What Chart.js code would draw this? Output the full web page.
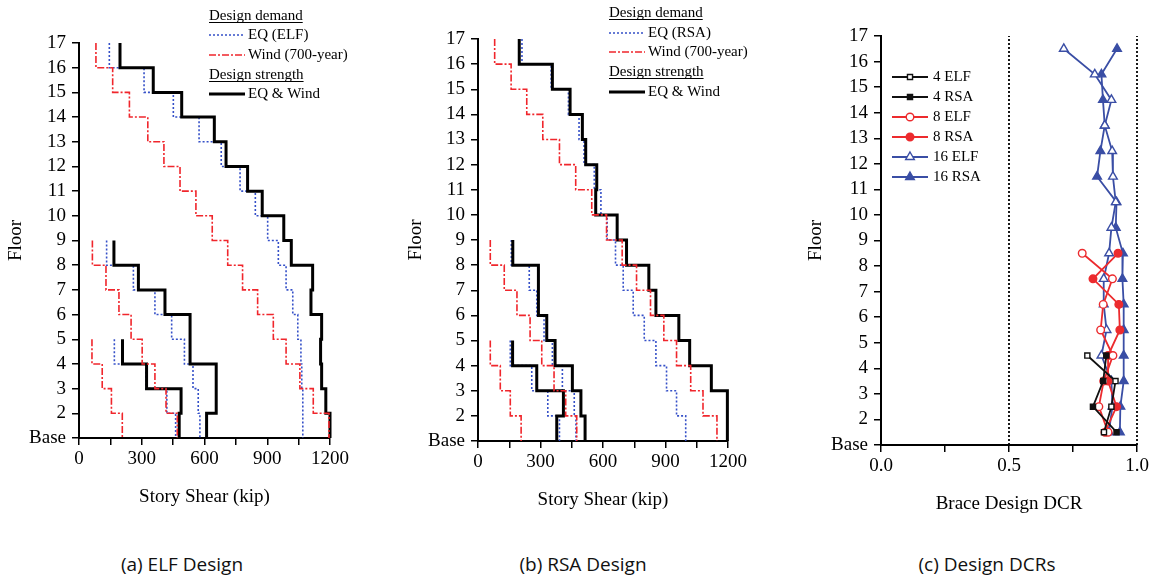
<!DOCTYPE html>
<html>
<head>
<meta charset="utf-8">
<script src="https://cdn.jsdelivr.net/npm/chart.js"></script>
<style>
  body { margin: 0; background: #fff; }
  #page { position: relative; width: 1160px; height: 581px; overflow: hidden; background: #fff; }
  canvas { position: absolute; top: 0; }
  .caption { position: absolute; width: 240px; text-align: center; font-family: "Open Sans", sans-serif; font-size: 19px; color: #111; top: 551px; }
</style>
</head>
<body>
<div id="page">
  <canvas id="chartA" width="390" height="520" style="left:0"></canvas>
  <canvas id="chartB" width="390" height="520" style="left:400px"></canvas>
  <canvas id="chartC" width="360" height="520" style="left:800px"></canvas>
  <div class="caption" style="left:62px">(a) ELF Design</div>
  <div class="caption" style="left:463px">(b) RSA Design</div>
  <div class="caption" style="left:867px">(c) Design DCRs</div>
</div>
<script>
// Story shears in kip, listed from the top story down to the base story

// (a) ELF design
const elfA16 = [145, 311, 451, 574, 680, 770, 843, 902, 953, 990, 1022, 1046, 1061, 1065, 1070, 1070];
const windA16 = [81, 161, 241, 329, 406, 483, 559, 637, 711, 782, 854, 929, 990, 1056, 1120, 1195];
const strengthA16 = [196, 355, 491, 647, 703, 806, 876, 979, 1015, 1117, 1109, 1160, 1155, 1160, 1180, 1200];
const elfA8 = [132, 260, 363, 443, 504, 545, 570, 578];
const windA8 = [64, 129, 191, 249, 302, 363, 416, 470];
const strengthA8 = [167, 284, 411, 531, 531, 656, 656, 610];
const elfA4 = [169, 320, 420, 462];
const windA4 = [62, 111, 155, 207];
const strengthA4 = [208, 323, 488, 479];

// (b) RSA design
const rsaB16 = [211, 351, 434, 485, 509, 558, 590, 620, 660, 697, 745, 798, 854, 905, 953, 997];
const windB16 = [80, 159, 234, 311, 391, 469, 546, 617, 692, 761, 828, 892, 953, 1021, 1080, 1147];
const strengthB16 = [198, 357, 442, 501, 517, 570, 565, 668, 713, 820, 854, 964, 1016, 1120, 1197, 1197];
const rsaB8 = [160, 246, 282, 317, 357, 405, 462, 470];
const windB8 = [59, 126, 187, 250, 306, 365, 421, 474];
const strengthB8 = [167, 290, 290, 330, 370, 453, 494, 514];
const rsaB4 = [155, 258, 335, 391];
const windB4 = [59, 107, 155, 207];
const strengthB4 = [166, 282, 410, 378];

// (c) brace design DCRs, top story down
const dcr16Elf = [0.714, 0.835, 0.900, 0.874, 0.903, 0.906, 0.917, 0.900, 0.891, 0.870, 0.870, 0.881, 0.861, 0.900, 0.904, 0.890];
const dcr16Rsa = [0.922, 0.861, 0.867, 0.874, 0.857, 0.844, 0.920, 0.917, 0.945, 0.943, 0.948, 0.948, 0.948, 0.948, 0.935, 0.933];
const dcr8Elf = [0.786, 0.904, 0.868, 0.858, 0.906, 0.870, 0.851, 0.887];
const dcr8Rsa = [0.926, 0.828, 0.929, 0.933, 0.887, 0.887, 0.920, 0.875];
const dcr4Elf = [0.806, 0.916, 0.900, 0.871];
const dcr4Rsa = [0.880, 0.868, 0.828, 0.920];
const dcrLimits = [0.5, 1.0];

// tick labels
const floorLabels = ['Base', '2', '3', '4', '5', '6', '7', '8', '9', '10', '11', '12', '13', '14', '15', '16', '17'];
const shearLabels = [0, 300, 600, 900, 1200];
const dcrLabels = [0.0, 0.5, 1.0];

const SERIF = '"Liberation Serif", "Times New Roman", serif';
const tickFont = { family: SERIF, size: 19 };
const titleFont = { family: SERIF, size: 19 };

const EQ_STYLE = { color: '#3550c8', width: 1.6, dash: [2, 2] };
const WIND_STYLE = { color: '#f0262c', width: 1.6, dash: [7, 2, 2, 2] };
const STRENGTH_STYLE = { color: '#000', width: 3, dash: [] };

// turns story shears into a vertical step line
function stepPoints(shears) {
    const top = shears.length + 1;
    const pts = [];
    shears.forEach((v, i) => {
        pts.push({ x: v, y: top - i });
        pts.push({ x: v, y: top - i - 1 });
    });
    return pts;
}

// story mid-heights for the DCR points
function storyPoints(values) {
    const top = values.length + 1;
    return values.map((v, i) => ({ x: v, y: top - i - 0.5 }));
}

function stepSet(shears, style) {
    return {
        data: stepPoints(shears),
        borderColor: style.color,
        borderWidth: style.width,
        borderDash: style.dash,
        pointRadius: 0,
        fill: false,
        clip: false
    };
}

// legend drawn on the canvas, with underlined headings
const panelLegend = {
    id: 'panelLegend',
    afterDraw(chart, args, opts) {
        const ctx = chart.ctx;
        ctx.save();
        ctx.font = '15px ' + SERIF;
        ctx.textBaseline = 'middle';
        opts.rows.forEach(row => {
            ctx.fillStyle = '#000';
            if (row.header) {
                ctx.fillText(row.text, opts.x, row.y);
                const w = ctx.measureText(row.text).width;
                ctx.fillRect(opts.x, row.y + 6, w, 1);
                return;
            }
            const st = row.style;
            ctx.strokeStyle = st.color;
            ctx.lineWidth = st.width;
            ctx.setLineDash(st.dash || []);
            ctx.beginPath();
            ctx.moveTo(opts.x, row.y);
            ctx.lineTo(opts.x + opts.len, row.y);
            ctx.stroke();
            ctx.setLineDash([]);
            if (st.point) {
                ctx.fillStyle = st.fill;
                ctx.lineWidth = 1.4;
                Chart.helpers.drawPoint(ctx, { pointStyle: st.point, radius: st.radius, borderWidth: 1.4, rotation: 0 },
                    opts.x + opts.len / 2, row.y);
            }
            ctx.fillStyle = '#000';
            ctx.fillText(row.text, opts.x + opts.len + opts.gap, row.y);
        });
        ctx.restore();
    }
};

function yScale(width) {
    return {
        type: 'linear', min: 1, max: 17,
        afterFit: s => { s.width = width; },
        border: { display: true, color: '#000', width: 2 },
        grid: { drawOnChartArea: false, drawTicks: true, tickLength: 7, color: '#000', lineWidth: 1.5 },
        ticks: {
            stepSize: 1, padding: 6, color: '#000', font: tickFont, autoSkip: false,
            callback: v => floorLabels[v - 1]
        },
        title: { display: true, text: 'Floor', color: '#000', font: titleFont, padding: { top: 5, bottom: 0 } }
    };
}

function xScale(max, step, title, labelFn) {
    return {
        type: 'linear', min: 0, max: max,
        afterFit: s => { s.height = 70; },
        border: { display: true, color: '#000', width: 2 },
        grid: { drawOnChartArea: false, drawTicks: true, tickLength: 7, color: '#000', lineWidth: 1.5 },
        ticks: { stepSize: step, padding: 3, color: '#000', font: tickFont, autoSkip: false, maxRotation: 0, callback: labelFn },
        title: { display: true, text: title, color: '#000', font: titleFont, padding: { top: 0, bottom: 0 } }
    };
}

function shearChart(id, sets, padding, yWidth, legendRows) {
    new Chart(document.getElementById(id), {
        type: 'line',
        data: { datasets: sets },
        options: {
            responsive: false,
            animation: false,
            layout: { padding: padding },
            scales: {
                x: xScale(1200, 150, 'Story Shear (kip)', v => shearLabels.includes(v) ? String(v) : ''),
                y: yScale(yWidth)
            },
            plugins: {
                legend: { display: false },
                tooltip: { enabled: false },
                panelLegend: { x: 209, len: 36, gap: 3, rows: legendRows }
            }
        },
        plugins: [panelLegend]
    });
}

function demandRows(eqLabel, ys) {
    return [
        { header: true, text: 'Design demand', y: ys[0] },
        { text: eqLabel, style: EQ_STYLE, y: ys[1] },
        { text: 'Wind (700-year)', style: WIND_STYLE, y: ys[2] },
        { header: true, text: 'Design strength', y: ys[3] },
        { text: 'EQ & Wind', style: STRENGTH_STYLE, y: ys[4] }
    ];
}

document.addEventListener('DOMContentLoaded', () => {
    shearChart('chartA', [
        stepSet(windA16, WIND_STYLE), stepSet(windA8, WIND_STYLE), stepSet(windA4, WIND_STYLE),
        stepSet(strengthA16, STRENGTH_STYLE), stepSet(strengthA8, STRENGTH_STYLE), stepSet(strengthA4, STRENGTH_STYLE),
        stepSet(elfA16, EQ_STYLE), stepSet(elfA8, EQ_STYLE), stepSet(elfA4, EQ_STYLE)
    ], { left: 0, top: 43, right: 60, bottom: 12 }, 79, demandRows('EQ (ELF)', [16, 35, 55, 75, 94]));

    shearChart('chartB', [
        stepSet(windB16, WIND_STYLE), stepSet(windB8, WIND_STYLE), stepSet(windB4, WIND_STYLE),
        stepSet(strengthB16, STRENGTH_STYLE), stepSet(strengthB8, STRENGTH_STYLE), stepSet(strengthB4, STRENGTH_STYLE),
        stepSet(rsaB16, EQ_STYLE), stepSet(rsaB8, EQ_STYLE), stepSet(rsaB4, EQ_STYLE)
    ], { left: 0, top: 39, right: 62, bottom: 9 }, 78, demandRows('EQ (RSA)', [13, 33, 52, 72, 92]));

    // (c) DCR chart
    const C_BLACK = '#111', C_RED = '#ec2b2e', C_BLUE = '#3a4ea5';
    const dcrStyles = [
        { label: '4 ELF', data: dcr4Elf, color: C_BLACK, point: 'rect', radius: 3.6, fill: '#fff' },
        { label: '4 RSA', data: dcr4Rsa, color: C_BLACK, point: 'rect', radius: 3.6, fill: C_BLACK },
        { label: '8 ELF', data: dcr8Elf, color: C_RED, point: 'circle', radius: 3.8, fill: '#fff' },
        { label: '8 RSA', data: dcr8Rsa, color: C_RED, point: 'circle', radius: 3.8, fill: C_RED },
        { label: '16 ELF', data: dcr16Elf, color: C_BLUE, point: 'triangle', radius: 5, fill: '#fff' },
        { label: '16 RSA', data: dcr16Rsa, color: C_BLUE, point: 'triangle', radius: 5, fill: C_BLUE }
    ];
    const dcrSets = dcrStyles.map(s => ({
        data: storyPoints(s.data),
        borderColor: s.color,
        borderWidth: 1.8,
        pointStyle: s.point,
        pointRadius: s.radius,
        pointBorderColor: s.color,
        pointBackgroundColor: s.fill,
        pointBorderWidth: 1.4,
        clip: false
    }));
    dcrLimits.forEach(v => dcrSets.push({
        data: [{ x: v, y: 1 }, { x: v, y: 17 }],
        borderColor: '#000', borderWidth: 1.8, borderDash: [2, 2], pointRadius: 0, clip: false
    }));

    new Chart(document.getElementById('chartC'), {
        type: 'line',
        data: { datasets: dcrSets },
        options: {
            responsive: false,
            animation: false,
            layout: { padding: { left: 0, top: 36, right: 23, bottom: 5 } },
            scales: {
                x: xScale(1, 0.25, 'Brace Design DCR',
                    v => dcrLabels.some(l => Math.abs(l - v) < 1e-6) ? v.toFixed(1) : ''),
                y: yScale(81)
            },
            plugins: {
                legend: { display: false },
                tooltip: { enabled: false },
                panelLegend: {
                    x: 92, len: 36, gap: 5,
                    rows: dcrStyles.map((s, i) => ({
                        text: s.label, y: 77 + i * 20,
                        style: { color: s.color, width: 1.8, dash: [], point: s.point, radius: s.radius, fill: s.fill }
                    }))
                }
            }
        },
        plugins: [panelLegend]
    });
});
</script>
</body>
</html>
